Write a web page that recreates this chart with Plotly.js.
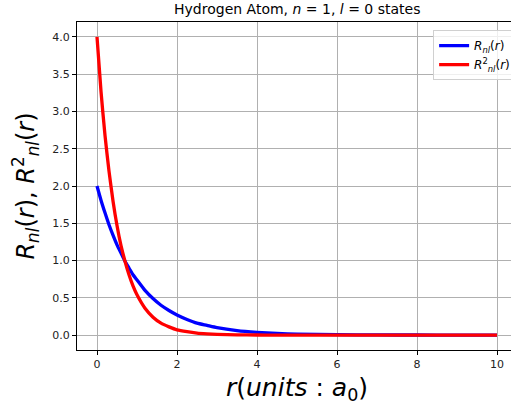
<!DOCTYPE html>
<html>
<head>
<meta charset="utf-8">
<script src="https://cdn.plot.ly/plotly-3.0.1.min.js"></script>
<style>html,body{margin:0;padding:0;overflow:hidden;background:#fff;width:511px;height:406px;}</style>
</head>
<body>
<div id="chart" style="width:517px;height:406px;"></div>
<script>
const r = [0, 0.1, 0.2, 0.3, 0.4, 0.5, 0.6, 0.7, 0.8, 0.9, 1.0, 1.2, 1.4, 1.6, 1.8, 2.0, 2.25, 2.5, 2.75, 3.0, 3.5, 4.0, 4.5, 5.0, 6.0, 7.0, 8.0, 9.0, 10.0];
const Rnl = [2.00, 1.81, 1.64, 1.48, 1.34, 1.21, 1.10, 0.99, 0.90, 0.81, 0.74, 0.60, 0.49, 0.40, 0.33, 0.27, 0.21, 0.16, 0.13, 0.10, 0.06, 0.037, 0.022, 0.013, 0.005, 0.002, 0.001, 0.0002, 0.0001];
const Rnl2 = [4.00, 3.27, 2.68, 2.20, 1.80, 1.47, 1.20, 0.99, 0.81, 0.66, 0.54, 0.36, 0.24, 0.16, 0.11, 0.07, 0.045, 0.027, 0.017, 0.010, 0.004, 0.001, 0.0005, 0.0002, 0.0, 0.0, 0.0, 0.0, 0.0];
const xTicks = [0, 2, 4, 6, 8, 10];
const yTicks = [0.0, 0.5, 1.0, 1.5, 2.0, 2.5, 3.0, 3.5, 4.0];
const yTickLabels = ["0.0", "0.5", "1.0", "1.5", "2.0", "2.5", "3.0", "3.5", "4.0"];

const font = "DejaVu Sans, sans-serif";
const traces = [
  {x: r, y: Rnl, mode: "lines", name: "<i>R<sub>nl</sub></i>(<i>r</i>)",
   line: {color: "#0000ff", width: 3.3, shape: "spline", smoothing: 0.6}},
  {x: r, y: Rnl2, mode: "lines", name: "<i>R</i><sup>2</sup><sub><i>nl</i></sub>(<i>r</i>)",
   line: {color: "#ff0000", width: 3.3, shape: "spline", smoothing: 0.6}}
];
const axisCommon = {
  showline: true, linecolor: "#000", linewidth: 1, mirror: true,
  showgrid: true, gridcolor: "#b0b0b0", gridwidth: 1,
  ticks: "outside", ticklen: 4, tickcolor: "#000", tickwidth: 1,
  zeroline: false, tickfont: {family: font, size: 11, color: "#222"}
};
const layout = {
  width: 517, height: 406,
  margin: {l: 77, r: 0, t: 22, b: 56},
  paper_bgcolor: "#fff", plot_bgcolor: "#fff",
  title: {text: "Hydrogen Atom, <i>n</i> = 1, <i>l</i> = 0 states", font: {family: font, size: 14, color: "#000"},
          x: 0.575, xanchor: "center", y: 0.978, yanchor: "middle"},
  xaxis: Object.assign({}, axisCommon, {range: [-0.5, 10.5], tickvals: xTicks, ticktext: xTicks.map(String),
    title: {text: "<i>r</i>(<i>units</i> : <i>a</i><sub>0</sub>)", font: {family: font, size: 25, color: "#000"}, standoff: 8}}),
  yaxis: Object.assign({}, axisCommon, {range: [-0.2, 4.2], tickvals: yTicks, ticktext: yTickLabels,
    title: {text: "<i>R<sub>nl</sub></i>(<i>r</i>), <i>R</i><sup>2</sup><sub><i>nl</i></sub>(<i>r</i>)", font: {family: font, size: 24, color: "#000"}, standoff: 10}}),
  showlegend: true,
  legend: {x: 0.998, xanchor: "right", y: 0.975, yanchor: "top", bgcolor: "rgba(255,255,255,0.8)",
           bordercolor: "#d0d0d0", borderwidth: 1, font: {family: font, size: 12, color: "#000"}}
};
Plotly.newPlot("chart", traces, layout, {displayModeBar: false, staticPlot: true});
</script>
</body>
</html>
